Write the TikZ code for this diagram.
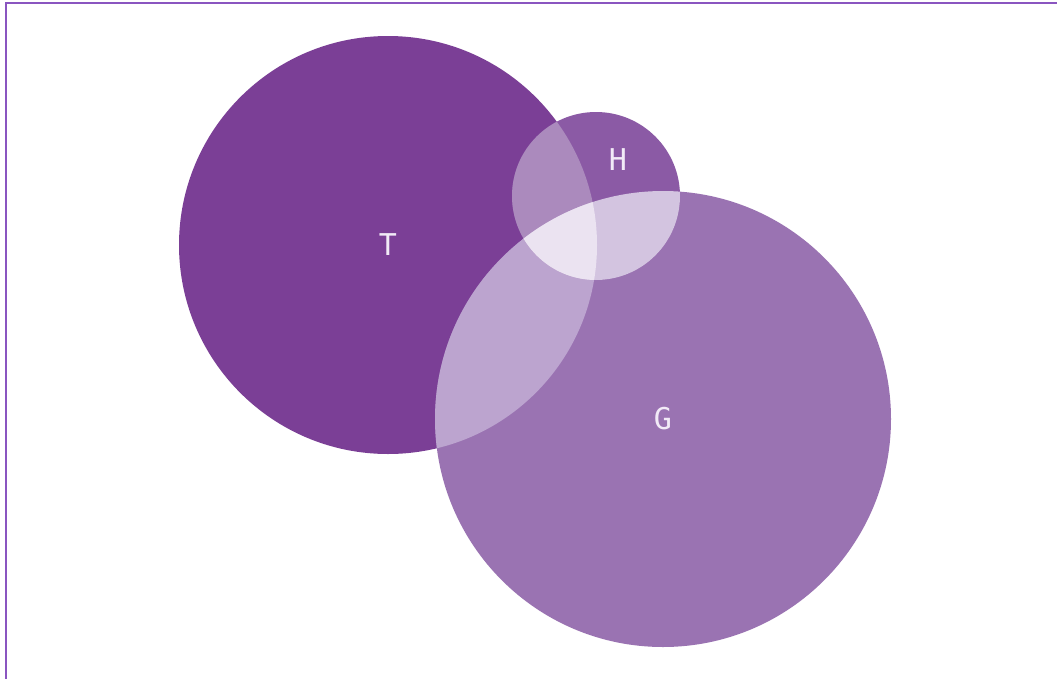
\documentclass[tikz,border=0pt]{standalone}
\usepackage{fontspec}
\newfontfamily\lblfont{DejaVu Sans Mono}
\definecolor{cT}{HTML}{7B3F96}
\definecolor{cH}{HTML}{8B5AA5}
\definecolor{cG}{HTML}{9A73B2}
\definecolor{cTH}{HTML}{AB8ABD}
\definecolor{cHG}{HTML}{D3C4E0}
\definecolor{cTG}{HTML}{BCA4CF}
\definecolor{cTHG}{HTML}{EBE3F1}
\definecolor{frame}{HTML}{8A55C0}
\definecolor{lbl}{HTML}{F2EAF7}
\tikzset{lab/.style={text=lbl,font=\lblfont\fontsize{30}{30}\selectfont,inner sep=0pt}}
\begin{document}
\begin{tikzpicture}[x=1pt,y=-1pt]
\useasboundingbox (0,0) rectangle (1057,678);
\fill[white] (0,0) rectangle (1057,678);
\draw[frame,line width=2pt] (6,679) -- (6,3) -- (1058,3);
\def\cT{(388,245) circle (209)}
\def\cH{(596,196) circle (84)}
\def\cG{(663,419) circle (228)}
\fill[cT] \cT;
\fill[cG] \cG;
\fill[cH] \cH;
\begin{scope}\clip \cT; \fill[cTG] \cG; \end{scope}
\begin{scope}\clip \cT; \fill[cTH] \cH; \end{scope}
\begin{scope}\clip \cH; \fill[cHG] \cG; \end{scope}
\begin{scope}\clip \cT; \clip \cH; \fill[cTHG] \cG; \end{scope}
\node[lab] (t) at (388,245) {T};
\node[lab] (h) at (618,160) {H};
\node[lab] (g) at (663,419) {G};
\end{tikzpicture}
\end{document}
